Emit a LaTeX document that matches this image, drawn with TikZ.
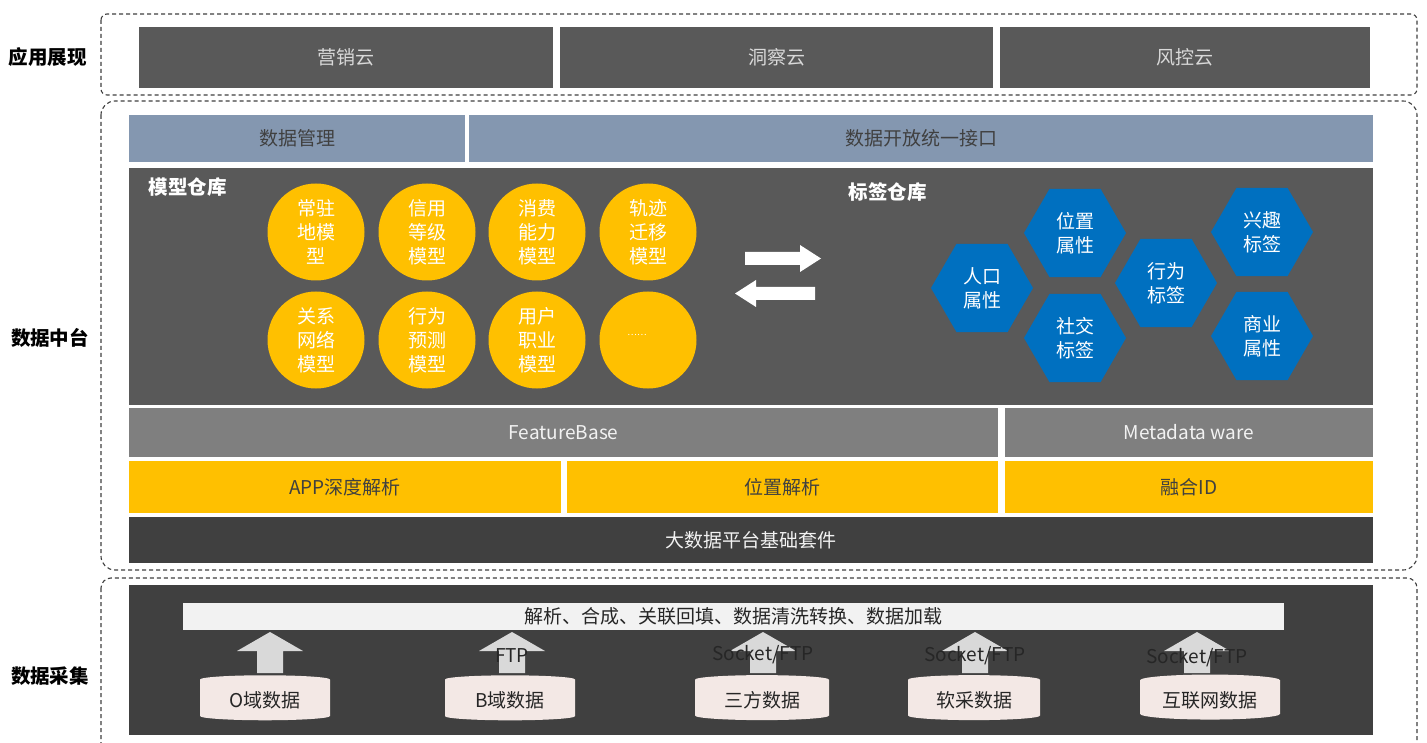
\documentclass[tikz,border=0pt]{standalone}
\usepackage{fontspec}
\setmainfont{Noto Sans CJK SC}
\usetikzlibrary{shapes.geometric}
\definecolor{cgray}{HTML}{595959}
\definecolor{cslate}{HTML}{8497B0}
\definecolor{cmid}{HTML}{7F7F7F}
\definecolor{cyel}{HTML}{FFC000}
\definecolor{cdark}{HTML}{404040}
\definecolor{cblue}{HTML}{0070C0}
\definecolor{cbar}{HTML}{F2F2F2}
\definecolor{carrow}{HTML}{D9D9D9}
\definecolor{ccyl}{HTML}{F3E8E5}
\definecolor{ctxt}{HTML}{262626}
\tikzset{
  fnt/.style={font=\fontsize{19}{24}\selectfont},
  box/.style={fnt, rectangle, inner sep=0pt, outer sep=0pt, draw=none, align=center},
  layerlabel/.style={font=\fontsize{19.5}{24}\selectfont\bfseries, text=black},
  group/.style={draw=cdark, line width=1.1pt, dash pattern=on 4pt off 3pt},
  model/.style={fnt, circle, fill=cyel, text=white, minimum size=97pt, inner sep=0pt, align=center},
  tag/.style={fnt, regular polygon, regular polygon sides=6, fill=cblue, text=white, minimum size=102pt, inner sep=0pt, align=center},
  store/.style={fnt, cylinder, shape border rotate=90, aspect=0.12, fill=ccyl, draw=none, minimum height=45pt, inner sep=0pt, text=ctxt},
  paneltitle/.style={font=\fontsize{19.5}{22}\selectfont\bfseries, text=white, anchor=west},
  uparrow/.style={fill=carrow},
  protolabel/.style={fnt, text=ctxt}
}
\begin{document}
\begin{tikzpicture}[x=1pt,y=-1pt]
\clip (0,0) rectangle (1427,743);
\fill[white] (0,0) rectangle (1427,743);

% group frames
\draw[group, rounded corners=6pt] (101,14) rectangle (1417,95);
\draw[group, rounded corners=14pt] (101,101) rectangle (1417,570);
\draw[group, rounded corners=10pt] (101,578) rectangle (1417,770);

% layer labels
\node[layerlabel] (l1) at (48,57) {应用展现};
\node[layerlabel] (l2) at (50,338) {数据中台};
\node[layerlabel] (l3) at (50,676) {数据采集};

% top row
\node[box, fill=cgray, text=carrow, minimum width=414pt, minimum height=61pt] (yx) at (346,57.5) {营销云};
\node[box, fill=cgray, text=carrow, minimum width=433pt, minimum height=61pt] (dc) at (776.5,57.5) {洞察云};
\node[box, fill=cgray, text=carrow, minimum width=370pt, minimum height=61pt] (fk) at (1185,57.5) {风控云};

% middle
\node[box, fill=cslate, text=cdark, minimum width=336pt, minimum height=47pt] (sjgl) at (297,138.5) {数据管理};
\node[box, fill=cslate, text=cdark, minimum width=904pt, minimum height=47pt] (jk) at (921,138.5) {数据开放统一接口};
\node[box, fill=cgray, minimum width=1244pt, minimum height=237pt] (panel) at (751,286.5) {};
\node[paneltitle] (mx) at (145,187) {模型仓库};
\node[paneltitle] (bq) at (845,192) {标签仓库};

% models
\node[model] (m1) at (316,232) {常驻\\地模\\型};
\node[model] (m2) at (427,232) {信用\\等级\\模型};
\node[model] (m3) at (537,232) {消费\\能力\\模型};
\node[model] (m4) at (648,232) {轨迹\\迁移\\模型};
\node[model] (m5) at (316,340) {关系\\网络\\模型};
\node[model] (m6) at (427,340) {行为\\预测\\模型};
\node[model] (m7) at (537,340) {用户\\职业\\模型};
\node[model] (m8) at (648,340) {};
\node[font=\fontsize{9}{10}\selectfont, text=white] (m8t) at (637,335) {……};

% exchange arrows
\fill[white] (745,252) -- (800,252) -- (800,245) -- (821,258.5) -- (800,272) -- (800,265) -- (745,265) -- cycle;
\fill[white] (815,287) -- (756,287) -- (756,280) -- (735,293.5) -- (756,307) -- (756,300) -- (815,300) -- cycle;

% tags
\node[tag] (t1) at (982,288) {人口\\属性};
\node[tag] (t2) at (1075,233) {位置\\属性};
\node[tag] (t3) at (1075,338) {社交\\标签};
\node[tag] (t4) at (1166,283) {行为\\标签};
\node[tag] (t5) at (1262,232) {兴趣\\标签};
\node[tag] (t6) at (1262,336) {商业\\属性};

\node[box, fill=cmid, text=cbar, minimum width=869pt, minimum height=49pt] (fb) at (563.5,432.5) {FeatureBase};
\node[box, fill=cmid, text=cbar, minimum width=368pt, minimum height=49pt] (md) at (1189,432.5) {Metadata ware};
\node[box, fill=cyel, text=cdark, minimum width=432pt, minimum height=52pt] (app) at (345,487) {APP深度解析};
\node[box, fill=cyel, text=cdark, minimum width=431pt, minimum height=52pt] (wz) at (782.5,487) {位置解析};
\node[box, fill=cyel, text=cdark, minimum width=368pt, minimum height=52pt] (rh) at (1189,487) {融合ID};
\node[box, fill=cdark, text=cbar, minimum width=1244pt, minimum height=46pt] (dsj) at (751,540) {大数据平台基础套件};

% bottom
\node[box, fill=cdark, minimum width=1244pt, minimum height=150pt] (bp) at (751,660) {};
\node[box, fill=cbar, text=ctxt, minimum width=1101pt, minimum height=27pt] (etl) at (733.5,616.5) {解析、合成、关联回填、数据清洗转换、数据加载};

\foreach \cx in {270,512,763,975,1197}{
  \fill[uparrow] (\cx-13,673) -- (\cx-13,651) -- (\cx-33,651) -- (\cx,632) -- (\cx+33,651) -- (\cx+13,651) -- (\cx+13,673) -- cycle;
}
\node[protolabel] (p2) at (512,656) {FTP};
\node[protolabel] (p3) at (763,655) {Socket/FTP};
\node[protolabel] (p4) at (975,656) {Socket/FTP};
\node[protolabel] (p5) at (1197,658) {Socket/FTP};

\node[store, minimum width=130pt] (s1) at (265,700) {O域数据};
\node[store, minimum width=130pt] (s2) at (510,700) {B域数据};
\node[store, minimum width=134pt] (s3) at (762,700) {三方数据};
\node[store, minimum width=132pt] (s4) at (974,700) {软采数据};
\node[store, minimum width=140pt] (s5) at (1210,700) {互联网数据};
\end{tikzpicture}
\end{document}
